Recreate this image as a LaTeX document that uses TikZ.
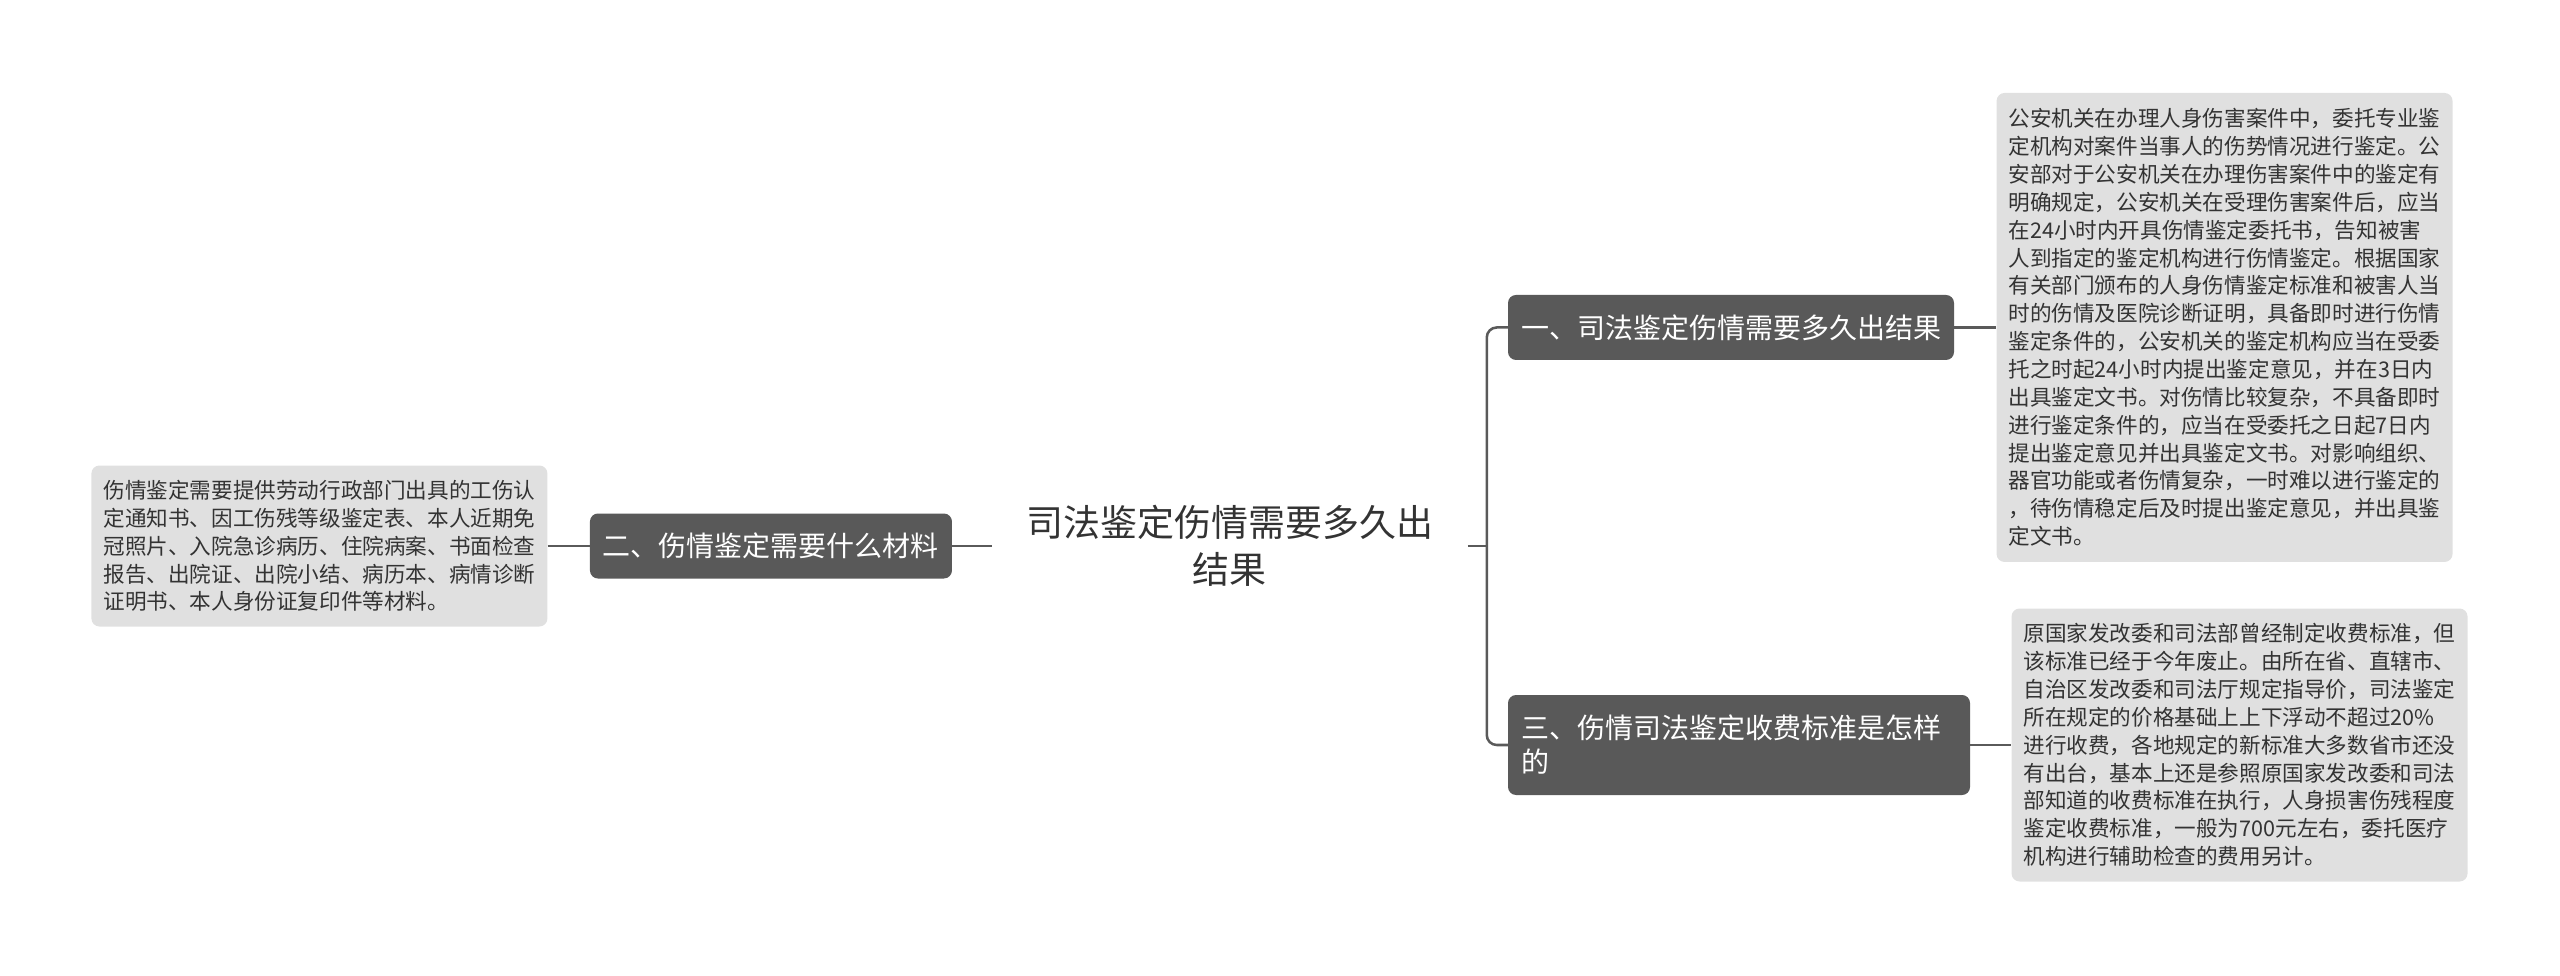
\documentclass[tikz,border=0pt]{standalone}
\usepackage{fontspec}
\setmainfont{Noto Sans CJK SC}
\usetikzlibrary{positioning,calc}

\definecolor{topicgray}{HTML}{595959}
\definecolor{notegray}{HTML}{E0E0E0}
\definecolor{notetext}{HTML}{333333}
\definecolor{linkgray}{HTML}{5A5A5A}

\begin{document}
\begin{tikzpicture}[
    topic/.style={rectangle, rounded corners=6pt, fill=topicgray, text=white, align=left, inner xsep=9.75pt, minimum height=48.75pt, font=\fontsize{21pt}{25.5pt}\selectfont},
    note/.style={rectangle, rounded corners=6pt, fill=notegray, text=notetext, align=left, text width=324pt, inner xsep=9pt, font=\fontsize{16.2pt}{20.9pt}\selectfont},
    link/.style={draw=linkgray, line width=1.9pt},
]
\useasboundingbox (-922.5pt,-321.75pt) rectangle (997.5pt,409.5pt);

% Central topic
\node[align=center, inner xsep=25.5pt, text=notetext, font=\fontsize{27.75pt}{35.25pt}\selectfont] (root) at (0,0) {司法鉴定伤情需要多久出\\结果};

% Left branch
\node[topic, left=30pt of root] (materials) {二、伤情鉴定需要什么材料};
\node[note, minimum height=120.75pt, left=31.5pt of materials] (materialsnote) {伤情鉴定需要提供劳动行政部门出具的工伤认\\
定通知书、因工伤残等级鉴定表、本人近期免\\
冠照片、入院急诊病历、住院病案、书面检查\\
报告、出院证、出院小结、病历本、病情诊断\\
证明书、本人身份证复印件等材料。};

% Right branches
\node[topic, right=30pt of root, yshift=163.9pt] (duration) {一、司法鉴定伤情需要多久出结果};
\node[topic, text width=327pt, minimum height=75pt, right=30pt of root, yshift=-149.25pt] (fees) {三、伤情司法鉴定收费标准是怎样\\的};

\node[note, minimum height=351.75pt, right=31.5pt of duration] (durationnote) {公安机关在办理人身伤害案件中，委托专业鉴\\
定机构对案件当事人的伤势情况进行鉴定。公\\
安部对于公安机关在办理伤害案件中的鉴定有\\
明确规定，公安机关在受理伤害案件后，应当\\
在24小时内开具伤情鉴定委托书，告知被害\\
人到指定的鉴定机构进行伤情鉴定。根据国家\\
有关部门颁布的人身伤情鉴定标准和被害人当\\
时的伤情及医院诊断证明，具备即时进行伤情\\
鉴定条件的，公安机关的鉴定机构应当在受委\\
托之时起24小时内提出鉴定意见，并在3日内\\
出具鉴定文书。对伤情比较复杂，不具备即时\\
进行鉴定条件的，应当在受委托之日起7日内\\
提出鉴定意见并出具鉴定文书。对影响组织、\\
器官功能或者伤情复杂，一时难以进行鉴定的\\
，待伤情稳定后及时提出鉴定意见，并出具鉴\\
定文书。};

\node[note, minimum height=204.75pt, right=30.75pt of fees] (feesnote) {原国家发改委和司法部曾经制定收费标准，但\\
该标准已经于今年废止。由所在省、直辖市、\\
自治区发改委和司法厅规定指导价，司法鉴定\\
所在规定的价格基础上上下浮动不超过20\%\\
进行收费，各地规定的新标准大多数省市还没\\
有出台，基本上还是参照原国家发改委和司法\\
部知道的收费标准在执行，人身损害伤残程度\\
鉴定收费标准，一般为700元左右，委托医疗\\
机构进行辅助检查的费用另计。};

% Connectors
\draw[link] (materialsnote) -- (materials);
\draw[link] (materials) -- (root);
\coordinate[right=14.25pt of root] (fork);
\draw[link] (root) -- (fork);
\draw[link, rounded corners=7.5pt] (duration.west) -| (fork) |- (fees.west);
\draw[link] (duration) -- (durationnote);
\draw[link] (fees) -- (feesnote);

\end{tikzpicture}
\end{document}
